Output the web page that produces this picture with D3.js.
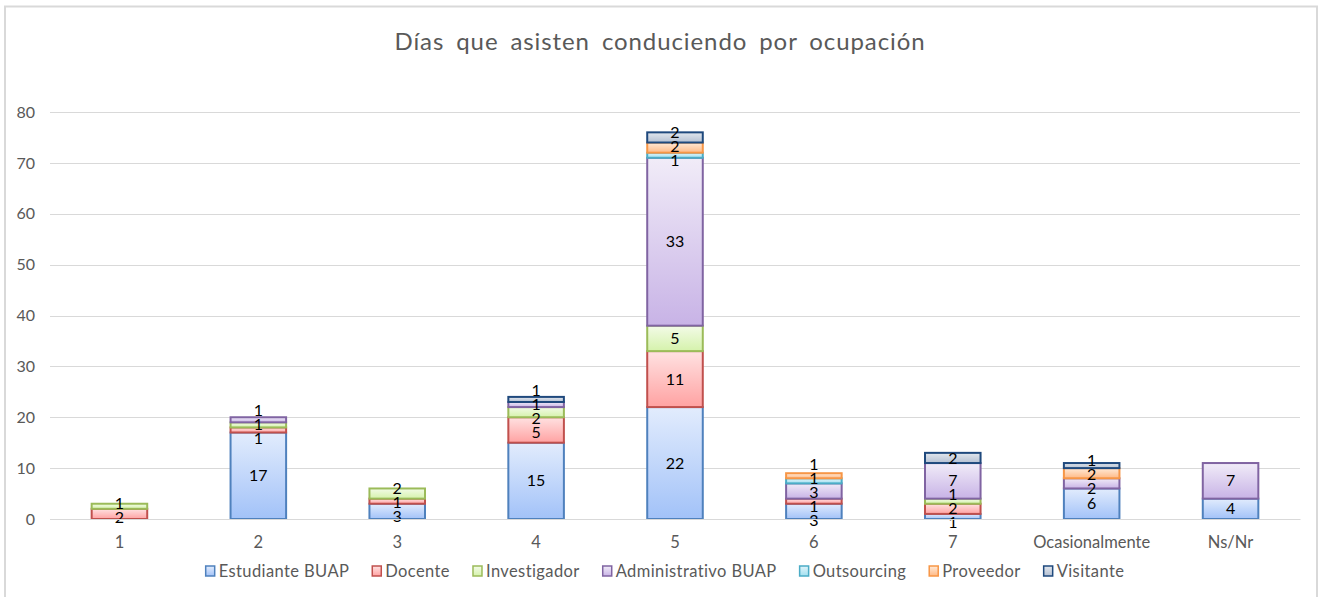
<!DOCTYPE html>
<html>
<head>
<meta charset="utf-8">
<script src="https://cdn.jsdelivr.net/npm/d3@7"></script>
<style>
  body { margin: 0; background: #fff; }
  svg { display: block; font-family: Lato, "Open Sans", sans-serif; }
</style>
</head>
<body>
<div class="box"></div>
<script>
// categorias del eje x
const dias = ['1', '2', '3', '4', '5', '6', '7', 'Ocasionalmente', 'Ns/Nr']
const ocupaciones = ['Estudiante BUAP', 'Docente', 'Investigador', 'Administrativo BUAP', 'Outsourcing', 'Proveedor', 'Visitante']

// valores por serie (uno por dia)
const estudiante     = [0, 17, 3, 15, 22, 3, 1, 6, 4]
const docente        = [2, 1, 1, 5, 11, 1, 2, 0, 0]
const investigador   = [1, 1, 2, 2, 5, 0, 1, 0, 0]
const administrativo = [0, 1, 0, 1, 33, 3, 7, 2, 7]
const outsourcing    = [0, 0, 0, 0, 1, 1, 0, 0, 0]
const proveedor      = [0, 0, 0, 0, 2, 1, 0, 2, 0]
const visitante      = [0, 0, 0, 1, 2, 0, 2, 1, 0]

const yTicks = [0, 10, 20, 30, 40, 50, 60, 70, 80]

const series = [estudiante, docente, investigador, administrativo, outsourcing, proveedor, visitante]
const colores = [
  {borde: '#4f81bd', arriba: '#e2ecfd', abajo: '#a2c2f8'},
  {borde: '#c0504d', arriba: '#ffe2e2', abajo: '#ffa2a2'},
  {borde: '#9bbb59', arriba: '#f3fbe8', abajo: '#d5f2ab'},
  {borde: '#8064a2', arriba: '#f1ecf8', abajo: '#c8b3e6'},
  {borde: '#4bacc6', arriba: '#e0f4fa', abajo: '#a2e0f0'},
  {borde: '#f79646', arriba: '#ffead8', abajo: '#ffb985'},
  {borde: '#1f497d', arriba: '#e2e7ee', abajo: '#b4c0d2'}
]

// tabla para d3.stack
const tabla = dias.map((d, i) => {
  const fila = {dia: d}
  ocupaciones.forEach((o, j) => fila[o] = series[j][i])
  return fila
})

const W = 1320, H = 597

const svg = d3.select('.box')
  .append('svg')
  .attr('width', W)
  .attr('height', H)

// marco del grafico
svg.append('rect')
  .attr('x', 5).attr('y', 6.5)
  .attr('width', 1312).attr('height', 600)
  .attr('fill', '#fff')
  .attr('stroke', '#d9d9d9')
  .attr('stroke-width', 2)

const defs = svg.append('defs')
colores.forEach((c, i) => {
  const g = defs.append('linearGradient')
    .attr('id', 'grad' + i)
    .attr('x1', 0).attr('y1', 0).attr('x2', 0).attr('y2', 1)
  g.append('stop').attr('offset', '0%').attr('stop-color', c.arriba)
  g.append('stop').attr('offset', '100%').attr('stop-color', c.abajo)
})

const x = d3.scaleBand()
  .domain(dias)
  .range([50, 1300])
  .paddingInner(0.6)
  .paddingOuter(0.3)

const y = d3.scaleLinear()
  .domain([0, 80])
  .range([519, 112])

// titulo
svg.append('text')
  .attr('x', 660).attr('y', 50)
  .attr('text-anchor', 'middle')
  .attr('fill', '#595959')
  .style('font-size', '24px')
  .style('letter-spacing', '0.9px')
  .style('word-spacing', '5px')
  .text('Días que asisten conduciendo por ocupación')

// cuadricula y eje y
const axeY = d3.axisLeft(y).tickValues(yTicks).tickSize(0).tickPadding(15)
const groupY = svg.append('g').attr('transform', 'translate(50,0)').call(axeY)
groupY.select('.domain').remove()
groupY.selectAll('text').attr('fill', '#595959').style('font-size', '16px').style('font-family', 'Lato, sans-serif')

svg.append('g').selectAll('line')
  .data(yTicks)
  .join('line')
  .attr('x1', 50).attr('x2', 1300)
  .attr('y1', d => Math.round(y(d)) + 0.5)
  .attr('y2', d => Math.round(y(d)) + 0.5)
  .attr('stroke', '#d9d9d9')
  .attr('stroke-width', 1)

// barras apiladas
const stack = d3.stack().keys(ocupaciones)(tabla)

const capas = svg.append('g').selectAll('g')
  .data(stack)
  .join('g')
  .attr('fill', (d, i) => `url(#grad${i})`)
  .attr('stroke', (d, i) => colores[i].borde)

capas.selectAll('rect')
  .data(d => d.filter(s => s[1] - s[0] > 0))
  .join('rect')
  .attr('x', d => x(d.data.dia))
  .attr('y', d => y(d[1]))
  .attr('width', x.bandwidth())
  .attr('height', d => y(d[0]) - y(d[1]))
  .attr('stroke-width', 2)

// etiquetas: centradas y separadas si se enciman
const etiquetas = []
dias.forEach((d, i) => {
  const grupo = []
  stack.forEach(capa => {
    const s = capa[i]
    const v = s[1] - s[0]
    if (v > 0) grupo.push({dia: d, v: v, yc: (y(s[0]) + y(s[1])) / 2})
  })
  grupo.sort((a, b) => b.yc - a.yc)
  const gap = 14
  for (let it = 0; it < 50; it++) {
    for (let k = 1; k < grupo.length; k++) {
      const dy = grupo[k - 1].yc - grupo[k].yc
      if (dy < gap) {
        const m = (gap - dy) / 2
        grupo[k - 1].yc += m
        grupo[k].yc -= m
      }
    }
  }
  etiquetas.push(...grupo)
})

svg.append('g').selectAll('text')
  .data(etiquetas)
  .join('text')
  .attr('x', d => x(d.dia) + x.bandwidth() / 2)
  .attr('y', d => d.yc)
  .attr('dy', '0.35em')
  .attr('text-anchor', 'middle')
  .attr('fill', '#000')
  .style('font-size', '16px')
  .text(d => d.v)

// eje x
const axeX = d3.axisBottom(x).tickSize(0).tickPadding(17)
const groupX = svg.append('g').attr('transform', 'translate(0,519)').call(axeX)
groupX.select('.domain').attr('stroke', '#d9d9d9')
groupX.selectAll('text').attr('fill', '#595959').style('font-size', '16.5px').style('font-family', 'Lato, sans-serif')

// leyenda
const leyenda = svg.append('g')
let lx = 0
ocupaciones.forEach((o, i) => {
  const g = leyenda.append('g')
  g.append('rect')
    .attr('x', 0).attr('y', -5)
    .attr('width', 9).attr('height', 10)
    .attr('fill', `url(#grad${i})`)
    .attr('stroke', colores[i].borde)
    .attr('stroke-width', 1.5)
  const t = g.append('text')
    .attr('x', 13).attr('y', 0)
    .attr('dy', '0.35em')
    .attr('fill', '#595959')
    .style('font-size', '16.5px')
    .style('letter-spacing', '0.4px')
    .text(o)
  g.attr('transform', `translate(${lx},0)`)
  lx += 13 + t.node().getComputedTextLength() + 23
})
const anchoLeyenda = lx - 23
leyenda.attr('transform', `translate(${665 - anchoLeyenda / 2},571)`)
</script>
</body>
</html>
